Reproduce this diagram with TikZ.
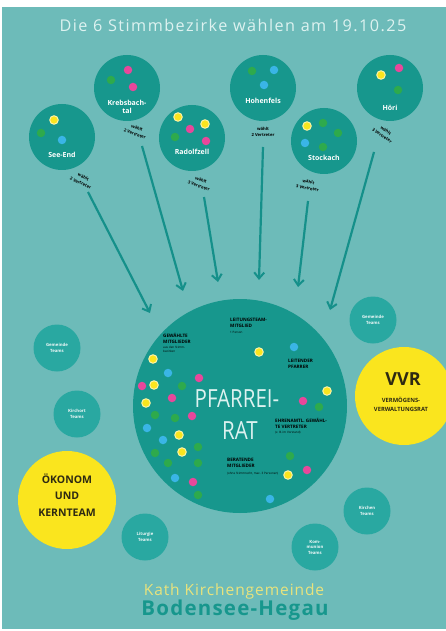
\documentclass[tikz,border=0pt]{standalone}
\usepackage{fontspec}
\setmainfont{Open Sans}
\newfontfamily\titlefont[LetterSpace=9]{Open Sans}
\newfontfamily\kathfont[LetterSpace=6]{Open Sans}
\newfontfamily\boldwide[LetterSpace=6]{Open Sans}
\usetikzlibrary{arrows.meta}
\definecolor{bg}{HTML}{6DBBB9}
\definecolor{dteal}{HTML}{17978D}
\definecolor{tteal}{HTML}{29A8A1}
\definecolor{arr}{HTML}{15908A}
\definecolor{yel}{HTML}{FAE51E}
\definecolor{ylight}{HTML}{FBF3A6}
\definecolor{pnk}{HTML}{E8479B}
\definecolor{blu}{HTML}{3AB5E6}
\definecolor{grn}{HTML}{2EAA4C}
\definecolor{ttl}{HTML}{DDF2F0}
\definecolor{kath}{HTML}{E9E37C}
\definecolor{dark}{HTML}{2E2A12}
\begin{document}
\begin{tikzpicture}[x=1pt,y=-1pt,
  district/.style={circle, fill=dteal, minimum size=66pt, inner sep=0pt},
  dlabel/.style={text=white, font=\fontsize{7}{8}\selectfont\bfseries, align=center},
  wlabel/.style={text=black, font=\fontsize{4.2}{6.5}\selectfont\bfseries, align=center, inner sep=0pt},
  dotbase/.style={circle, minimum size=8.5pt, inner sep=0pt},
  ydot/.style={dotbase, fill=yel, draw=ylight, line width=1pt},
  pdot/.style={dotbase, fill=pnk},
  bdot/.style={dotbase, fill=blu},
  gdot/.style={dotbase, fill=grn},
  team/.style={circle, fill=tteal, minimum size=47pt, inner sep=0pt, text=white!92!tteal, font=\fontsize{4.3}{5.5}\selectfont\bfseries, align=center},
  ycirc/.style={circle, fill=yel, minimum size=98pt, inner sep=0pt},
  prlabel/.style={anchor=north west, text=black, font=\fontsize{4.6}{5.6}\selectfont\bfseries, align=left, inner sep=0pt},
  prsmall/.style={anchor=north west, text=black, font=\fontsize{3}{3.8}\selectfont, align=left, inner sep=0pt},
  arrowline/.style={draw=arr, line width=2.2pt, -{Straight Barb[length=6pt,width=10pt,line width=2pt]}}
]
\path[use as bounding box] (0,0) rectangle (446,631);
\fill[white] (0,0) rectangle (446,631);
\fill[bg] (2,7) rectangle (446,629);

% title
\node[text=ttl, font=\titlefont\fontsize{16.2}{18}\selectfont] (title) at (233,25) {Die 6 Stimmbezirke wählen am 19.10.25};

% districts
\node[district] (seeend) at (62,137) {};
\node[district] (krebs) at (127,88) {};
\node[district] (radolf) at (192,138) {};
\node[district] (hohen) at (263,88) {};
\node[district] (stock) at (324,141) {};
\node[district] (hoeri) at (390,88) {};

% district dots
\node[ydot] (s1) at (54,120) {};
\node[gdot] (s2) at (41,133) {};
\node[bdot] (s3) at (62,140) {};
\node[pdot] (k1) at (128,70) {};
\node[gdot] (k2) at (111,80) {};
\node[pdot] (k3) at (133,87) {};
\node[ydot] (r1) at (178,117) {};
\node[ydot] (r2) at (205,124) {};
\node[pdot] (r3) at (190,129) {};
\node[gdot] (r4) at (175,137) {};
\node[pdot] (r5) at (206,141) {};
\node[gdot] (h1) at (252,71) {};
\node[bdot] (h2) at (274,70) {};
\node[bdot] (h3) at (264,85) {};
\node[ydot] (t1) at (307,126) {};
\node[gdot] (t2) at (323,123) {};
\node[gdot] (t3) at (338,133) {};
\node[bdot] (t4) at (305,143) {};
\node[gdot] (t5) at (323,147) {};
\node[ydot] (o1) at (381,75) {};
\node[pdot] (o2) at (399,68) {};
\node[gdot] (o3) at (398,90) {};

% district labels
\node[dlabel] (lseeend) at (62,155) {See-End};
\node[dlabel] (lkrebs) at (127,107) {Krebsbach-\\tal};
\node[dlabel] (lradolf) at (192,152) {Radolfzell};
\node[dlabel] (lhohen) at (263,101) {Hohenfels};
\node[dlabel] (lstock) at (324,158) {Stockach};
\node[dlabel] (lhoeri) at (390,108) {Höri};

% waehlt labels
\node[wlabel, rotate=-25] (wseeend) at (82,180) {wählt\\2 Vertreter};
\node[wlabel, rotate=-20] (wkrebs) at (136,131) {wählt\\2 Vertreter};
\node[wlabel, rotate=-20] (wradolf) at (200,183) {wählt\\3 Vertreter};
\node[wlabel] (whohen) at (263,132) {wählt\\2 Vertreter};
\node[wlabel, rotate=-10] (wstock) at (308,185) {wählt\\3 Vertreter};
\node[wlabel, rotate=-35] (whoeri) at (384,133) {wählt\\3 Vertreter};

% Pfarreirat
\node[circle, fill=dteal, minimum size=214pt, inner sep=0pt] (pr) at (240,406) {};

% arrows
\coordinate (a1s) at (88,192);  \coordinate (a1e) at (150,313);
\coordinate (a2s) at (142,146); \coordinate (a2e) at (183,291);
\coordinate (a3s) at (204,197); \coordinate (a3e) at (218,282);
\coordinate (a4s) at (263,147); \coordinate (a4e) at (259,280);
\coordinate (a5s) at (308,201); \coordinate (a5e) at (298,287);
\coordinate (a6s) at (374,152); \coordinate (a6e) at (330,310);
\draw[arrowline] (a1s) -- (a1e);
\draw[arrowline] (a2s) -- (a2e);
\draw[arrowline] (a3s) -- (a3e);
\draw[arrowline] (a4s) -- (a4e);
\draw[arrowline] (a5s) -- (a5e);
\draw[arrowline] (a6s) -- (a6e);

% Pfarreirat text
\node[text=ttl, font=\fontsize{25}{27}\selectfont, xscale=0.82] (pf1) at (237,399) {PFARREI-};
\node[text=ttl, font=\fontsize{25}{27}\selectfont, xscale=0.82] (pf2) at (240,431) {RAT};

\node[prlabel] (g1) at (163,333) {GEWÄHLTE\\MITGLIEDER};
\node[prsmall] (g1s) at (163,346) {aus den Stimm-\\bezirken};
\node[prlabel] (g2) at (230,318) {LEITUNGSTEAM-\\MITGLIED};
\node[prsmall] (g2s) at (230,331) {1 Person};
\node[prlabel] (g3) at (288,359) {LEITENDER\\PFARRER};
\node[prlabel] (g4) at (275,418) {EHRENAMTL. GEWÄHL-\\TE VERTRETER};
\node[prsmall] (g4s) at (275,431) {(z. B. im Vorstand)};
\node[prlabel] (g5) at (227,458) {BERATENDE\\MITGLIEDER};
\node[prsmall] (g5s) at (227,472) {(ohne Stimmrecht, max. 3 Personen)};

% Pfarreirat dots
\node[ydot] at (153,359) {};
\node[bdot] at (168,373) {};
\node[pdot] at (199,378) {};
\node[pdot] at (142,386) {};
\node[ydot] at (154,385) {};
\node[gdot] at (182,386) {};
\node[pdot] at (172,398) {};
\node[ydot] at (146,403) {};
\node[pdot] at (192,416) {};
\node[gdot] at (155,415) {};
\node[gdot] at (175,418) {};
\node[bdot] at (147,428) {};
\node[ydot] at (179,435) {};
\node[bdot] at (163,440) {};
\node[ydot] at (182,452) {};
\node[gdot] at (155,453) {};
\node[gdot] at (198,447) {};
\node[gdot] at (168,463) {};
\node[gdot] at (198,463) {};
\node[bdot] at (175,478) {};
\node[pdot] at (193,482) {};
\node[gdot] at (198,495) {};
\node[ydot] at (259,352) {};
\node[bdot] at (294,347) {};
\node[ydot] at (327,391) {};
\node[pdot] at (303,401) {};
\node[gdot] at (319,407) {};
\node[gdot] at (290,456) {};
\node[ydot] at (288,475) {};
\node[pdot] at (307,470) {};
\node[bdot] at (270,499) {};

% teams
\node[team] (tm1) at (57,348) {Gemeinde\\Teams};
\node[team] (tm2) at (77,414) {Kirchort\\Teams};
\node[team] (tm3) at (145,537) {Liturgie\\Teams};
\node[team] (tm4) at (315,547) {Kom-\\munion\\Teams};
\node[team] (tm5) at (367,511) {Kirchen\\Teams};
\node[team] (tm6) at (373,320) {Gemeinde\\Teams};

% yellow circles
\node[ycirc] (oek) at (67,500) {};
\node[text=dark, font=\fontsize{10.5}{16.5}\selectfont\bfseries, align=center] (oekt) at (67,495) {ÖKONOM\\UND\\KERNTEAM};
\node[ycirc] (vvr) at (404,396) {};
\node[text=dark, font=\fontsize{18}{19}\selectfont\bfseries] (vvrt) at (403,379) {VVR};
\node[text=dark, font=\fontsize{5.8}{9}\selectfont\bfseries, align=center] (vvrs) at (401,404) {VERMÖGENS-\\VERWALTUNGSRAT};

% footer
\node[text=kath, font=\kathfont\fontsize{15.5}{17}\selectfont] (kath) at (234,591) {Kath Kirchengemeinde};
\node[text=dteal, font=\boldwide\fontsize{20.5}{22}\selectfont\bfseries] (bh) at (235,610) {Bodensee-Hegau};
\end{tikzpicture}
\end{document}
